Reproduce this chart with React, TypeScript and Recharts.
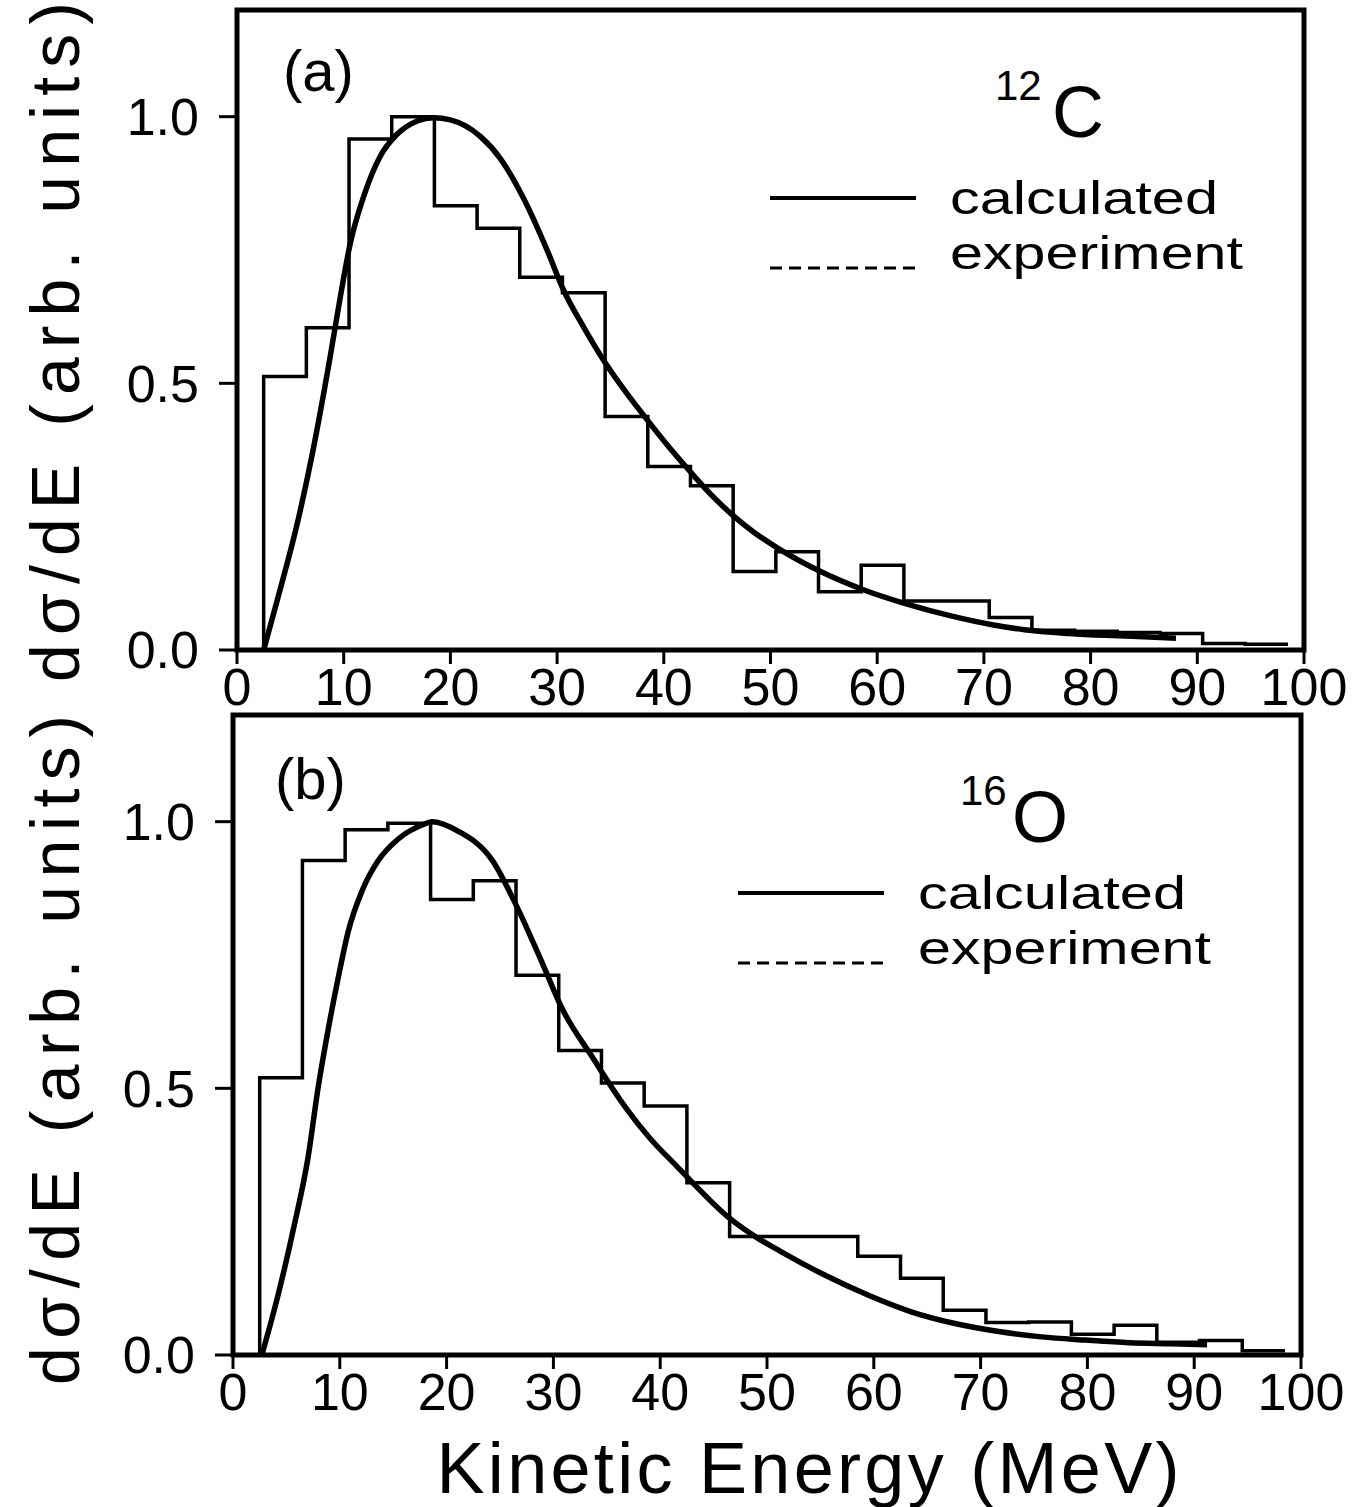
import { LineChart, Line, XAxis, YAxis, ReferenceArea } from "recharts";

// histogram bins are 4 MeV wide, left edges listed here
const binEdges = [2.5, 6.5, 10.5, 14.5, 18.5, 22.5, 26.5, 30.5, 34.5, 38.5, 42.5, 46.5, 50.5, 54.5, 58.5, 62.5, 66.5, 70.5, 74.5, 78.5, 82.5, 86.5, 90.5, 94.5];
const binEnd = 98.5;

// (a) 12C
const carbonExp = [0.513, 0.604, 0.958, 1.0, 0.833, 0.791, 0.699, 0.67, 0.438, 0.344, 0.308, 0.147, 0.184, 0.109, 0.159, 0.092, 0.092, 0.061, 0.037, 0.035, 0.033, 0.031, 0.012, 0.011];
const carbonCalcE = [2.5, 4, 5.6, 7.1, 8.7, 9.7, 10.6, 11.9, 13.4, 15, 16.9, 18.4, 20, 22.8, 24.7, 26.9, 29.1, 30.6, 32.5, 34.4, 36.5, 38.5, 40.5, 42.4, 44.5, 46.5, 48.5, 50.6, 54.6, 58.7, 62.8, 66.9, 70.9, 73.8, 78, 82, 86, 88];
const carbonCalc = [0, 0.11, 0.233, 0.372, 0.546, 0.664, 0.761, 0.852, 0.925, 0.967, 0.992, 0.998, 0.994, 0.963, 0.921, 0.845, 0.748, 0.675, 0.605, 0.542, 0.482, 0.43, 0.38, 0.336, 0.29, 0.252, 0.22, 0.192, 0.148, 0.113, 0.086, 0.064, 0.047, 0.038, 0.031, 0.027, 0.024, 0.022];

// (b) 16O
const oxygenExp = [0.52, 0.927, 0.985, 0.997, 0.854, 0.889, 0.712, 0.571, 0.51, 0.467, 0.323, 0.222, 0.222, 0.222, 0.185, 0.144, 0.084, 0.061, 0.062, 0.039, 0.056, 0.024, 0.027, 0.008];
const oxygenCalcE = [2.7, 4.2, 5.8, 7, 8, 8.9, 9.9, 10.8, 12.1, 13.6, 15.5, 18, 18.6, 21.1, 24.3, 26.5, 29, 30.8, 33.6, 36.8, 39.1, 41.5, 42.8, 46.4, 48.9, 51.3, 55.4, 59.5, 63.5, 67.6, 71.7, 75.7, 79.8, 83.9, 87.9, 91.2];
const oxygenCalc = [0, 0.111, 0.249, 0.367, 0.505, 0.609, 0.712, 0.795, 0.871, 0.927, 0.968, 0.996, 1.0, 0.982, 0.927, 0.844, 0.733, 0.65, 0.56, 0.463, 0.405, 0.355, 0.328, 0.258, 0.222, 0.194, 0.15, 0.112, 0.081, 0.059, 0.044, 0.034, 0.028, 0.023, 0.021, 0.019];

const xTicks = [0, 10, 20, 30, 40, 50, 60, 70, 80, 90, 100];
const yTicks = [0, 0.5, 1.0];

const FONT = "'Liberation Sans', Arial, sans-serif";
const tickFont = { fontSize: 52, fill: "#000", fontFamily: FONT };
const tickStroke = { stroke: "#000", strokeWidth: 3 };

function histogram(vals: number[]) {
  const pts = [{ x: binEdges[0], y: 0 }];
  binEdges.forEach((e, i) => pts.push({ x: e, y: vals[i] }));
  pts.push({ x: binEnd, y: vals[vals.length - 1] });
  return pts;
}

function curve(es: number[], vs: number[]) {
  return es.map((e, i) => ({ x: e, y: vs[i] }));
}

function Panel({ top, left, right, exp, calcE, calc }: {
  top: number; left: number; right: number; exp: number[]; calcE: number[]; calc: number[];
}) {
  return (
    <div style={{ position: "absolute", top, left: 0 }}>
      <LineChart width={1364} height={720} margin={{ top: 10, right: 1364 - right, left: 0, bottom: 0 }}>
        <XAxis
          dataKey="x"
          type="number"
          domain={[0, 100]}
          ticks={xTicks}
          interval={0}
          height={70}
          tickSize={14}
          tickMargin={4}
          tick={tickFont}
          axisLine={false}
          tickLine={tickStroke}
        />
        <YAxis
          type="number"
          domain={[0, 1.2]}
          ticks={yTicks}
          width={left}
          tickSize={18}
          tickMargin={20}
          tick={tickFont}
          tickFormatter={(v: number) => v.toFixed(1)}
          axisLine={false}
          tickLine={tickStroke}
        />
        <ReferenceArea x1={0} x2={100} y1={0} y2={1.2} fill="none" fillOpacity={0} stroke="#000" strokeWidth={5} ifOverflow="visible" />
        <Line data={histogram(exp)} dataKey="y" type="stepAfter" stroke="#000" strokeWidth={3.5} dot={false} isAnimationActive={false} />
        <Line data={curve(calcE, calc)} dataKey="y" type="monotone" stroke="#000" strokeWidth={5.5} dot={false} isAnimationActive={false} />
      </LineChart>
    </div>
  );
}

function Legend({ x, y }: { x: number; y: number }) {
  return (
    <g>
      <line x1={x} y1={y} x2={x + 146} y2={y} stroke="#000" strokeWidth={4} />
      <text x={x + 180} y={y + 16} fontSize={46} textLength={268} lengthAdjust="spacingAndGlyphs">calculated</text>
      <line x1={x} y1={y + 70} x2={x + 146} y2={y + 70} stroke="#000" strokeWidth={3} strokeDasharray="12 7" />
      <text x={x + 180} y={y + 71} fontSize={46} textLength={293} lengthAdjust="spacingAndGlyphs">experiment</text>
    </g>
  );
}

export default function App() {
  return (
    <div style={{ position: "absolute", top: 0, left: 0, width: 1364, height: 1507, background: "#fff", fontFamily: FONT, overflow: "hidden" }}>
      <Panel top={0} left={237} right={1304} exp={carbonExp} calcE={carbonCalcE} calc={carbonCalc} />
      <Panel top={705} left={233} right={1301} exp={oxygenExp} calcE={oxygenCalcE} calc={oxygenCalc} />
      <svg width={1364} height={1507} style={{ position: "absolute", top: 0, left: 0, pointerEvents: "none" }} fontFamily={FONT} fill="#000">
        <text x={283} y={91} fontSize={58}>(a)</text>
        <text x={995} y={100} fontSize={42}>12</text>
        <text x={1052} y={137} fontSize={72}>C</text>
        <Legend x={770} y={198} />

        <text x={275} y={799} fontSize={58}>(b)</text>
        <text x={960} y={805} fontSize={42}>16</text>
        <text x={1012} y={842} fontSize={72}>O</text>
        <Legend x={738} y={893} />

        <text x={808} y={1493} fontSize={72} textAnchor="middle" textLength={743} lengthAdjust="spacing">Kinetic Energy (MeV)</text>
        <text transform="translate(79,342) rotate(-90)" fontSize={68} textAnchor="middle" textLength={680} lengthAdjust="spacing">dσ/dE (arb. units)</text>
        <text transform="translate(79,1050) rotate(-90)" fontSize={68} textAnchor="middle" textLength={670} lengthAdjust="spacing">dσ/dE (arb. units)</text>
      </svg>
    </div>
  );
}
